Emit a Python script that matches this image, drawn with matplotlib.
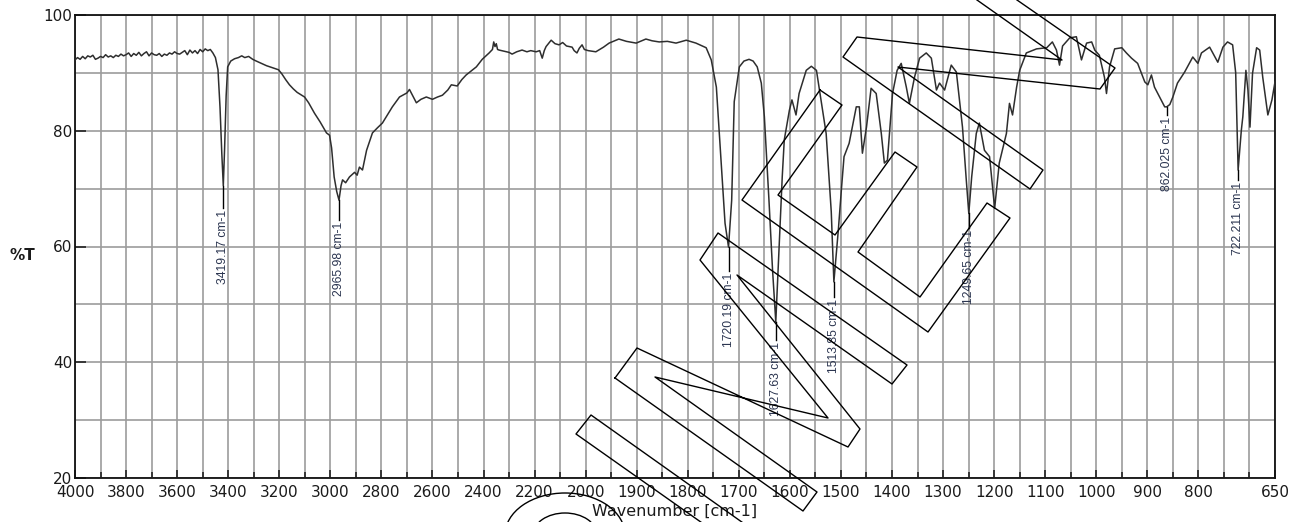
import numpy as np
import matplotlib
matplotlib.use("Agg")
import matplotlib.pyplot as plt
from matplotlib.lines import Line2D
from matplotlib.patches import Ellipse

# --- spectrum (wavenumber cm-1, %T) ---
wavenumber = [
    4000, 3990, 3980, 3970, 3960, 3950, 3940, 3930, 3920, 3910, 3900, 3890, 3880, 3870,
    3860, 3850, 3840, 3830, 3820, 3810, 3800, 3790, 3780, 3770, 3760, 3750, 3740, 3730,
    3720, 3710, 3700, 3690, 3680, 3670, 3660, 3650, 3640, 3630, 3620, 3610, 3600, 3590,
    3580, 3570, 3560, 3550, 3540, 3530, 3520, 3510, 3500, 3490, 3480, 3470, 3460, 3450,
    3440, 3432, 3425, 3419.17, 3414, 3408, 3402, 3390, 3375, 3360, 3347, 3335, 3320, 3304,
    3290, 3270, 3250, 3230, 3203, 3190, 3175, 3160, 3145, 3130, 3101, 3085, 3062, 3040,
    3015, 3003, 2995, 2985, 2975, 2965.98, 2958, 2952, 2940, 2925, 2905, 2895, 2886, 2874,
    2858, 2835, 2815, 2796, 2757, 2729, 2700, 2690, 2663, 2645, 2624, 2600, 2580, 2561,
    2540, 2526, 2503, 2485, 2468, 2428, 2405, 2378, 2365, 2360, 2355, 2350, 2345, 2339,
    2320, 2300, 2288, 2270, 2249, 2230, 2215, 2194, 2180, 2170, 2162, 2155, 2135, 2120,
    2104, 2090, 2075, 2053, 2045, 2034, 2025, 2014, 2005, 1995, 1980, 1965, 1954, 1935,
    1920, 1901, 1882, 1870, 1856, 1840, 1823, 1803, 1784, 1764, 1754, 1744, 1735, 1727,
    1720.19, 1714, 1709, 1699, 1690, 1680, 1672, 1664, 1656, 1650, 1641, 1634, 1627.63,
    1621, 1615, 1611, 1601, 1596, 1588, 1582, 1568, 1558, 1548, 1543, 1529, 1519, 1513.85,
    1505, 1499, 1494, 1484, 1470, 1464, 1458, 1450, 1441, 1431, 1421, 1415, 1409, 1399,
    1390, 1382, 1372, 1366, 1356, 1346, 1333, 1323, 1313, 1307, 1297, 1284, 1274, 1262,
    1255, 1249.65, 1244, 1235, 1229, 1219, 1209, 1199, 1190, 1176, 1170, 1164, 1156, 1150,
    1137, 1117, 1097, 1086, 1078, 1072, 1066, 1052, 1039, 1029, 1019, 1009, 1003, 994,
    984, 980, 974, 964, 950, 941, 931, 919, 905, 899, 892, 886, 876, 866, 862.025,
    856, 850, 841, 827, 811, 801, 794, 778, 762, 752, 743, 733, 727, 722.211, 716, 713,
    707, 703, 699, 694, 686, 680, 674, 664, 656, 650,
]
transmittance = [
    92.2, 92.6, 92.3, 92.8, 92.4, 92.9, 92.7, 93.0, 92.3, 92.5, 92.8, 92.6, 93.1, 92.7,
    92.9, 92.6, 93.0, 92.8, 93.2, 92.9, 93.1, 93.4, 92.8, 93.3, 93.0, 93.5, 92.9, 93.3,
    93.6, 92.9, 93.4, 93.1, 93.0, 93.3, 92.8, 93.2, 93.0, 93.4, 93.2, 93.6, 93.3, 93.2,
    93.5, 93.8, 93.1, 93.9, 93.4, 93.8, 93.3, 94.0, 93.6, 94.1, 93.8, 94.0, 93.4, 92.6,
    90.5, 84.0, 76.0, 70.5, 77.0, 86.0, 91.0, 92.0, 92.4, 92.6, 92.9, 92.6, 92.8, 92.3,
    92.0, 91.6, 91.2, 90.9, 90.5, 89.8, 88.8, 87.9, 87.2, 86.6, 85.8, 84.8, 83.0, 81.5,
    79.6, 79.2, 77.0, 72.0, 69.5, 68.0, 70.5, 71.5, 71.0, 72.0, 72.8, 72.3, 73.7, 73.2,
    76.6, 79.6, 80.5, 81.3, 84.1, 85.8, 86.5, 87.1, 84.8, 85.4, 85.8, 85.4, 85.8, 86.1,
    87.0, 87.9, 87.7, 88.8, 89.6, 91.0, 92.3, 93.4, 94.0, 95.3, 94.5, 95.0, 94.0, 93.9,
    93.7, 93.5, 93.2, 93.6, 93.9, 93.6, 93.8, 93.6, 93.8, 92.5, 93.8, 94.5, 95.6, 95.0,
    94.8, 95.2, 94.6, 94.4, 93.8, 93.4, 94.2, 94.8, 94.0, 93.8, 93.6, 94.4, 95.1, 95.8,
    95.4, 95.1, 95.8, 95.5, 95.3, 95.4, 95.1, 95.6, 95.1, 94.3, 92.2, 87.5, 75.0, 64.0,
    59.9, 68.0, 85.0, 91.0, 92.0, 92.3, 92.0, 91.0, 88.2, 82.4, 68.0, 56.0, 47.0,
    60.0, 72.0, 78.4, 83.5, 85.3, 82.7, 86.4, 90.4, 91.1, 90.4, 87.5, 79.5, 66.0, 53.9,
    63.0, 70.0, 75.5, 77.8, 84.1, 84.1, 76.1, 80.6, 87.3, 86.4, 79.5, 74.4, 74.9, 86.4,
    90.4, 91.6, 87.5, 84.7, 89.2, 92.5, 93.4, 92.5, 87.0, 88.2, 87.0, 91.3, 90.1, 80.6,
    72.0, 65.7, 72.0, 79.5, 81.3, 76.6, 75.5, 66.6, 74.4, 79.5, 84.7, 82.7, 87.5, 90.4,
    93.4, 94.1, 94.3, 95.3, 93.9, 91.3, 94.6, 96.0, 96.2, 92.2, 95.1, 95.3, 93.9, 93.0,
    89.2, 86.4, 91.0, 94.1, 94.3, 93.4, 92.5, 91.6, 88.4, 87.9, 89.6, 87.5, 85.8, 84.1, 84.1,
    84.5, 85.8, 88.2, 90.1, 92.7, 91.6, 93.4, 94.4, 91.8, 94.4, 95.3, 94.8, 90.0, 73.2, 80.0, 82.4,
    90.4, 87.0, 80.6, 89.9, 94.3, 93.9, 89.2, 82.7, 85.3, 88.4,
]

# picked peaks
peak_wn = [3419.17, 2965.98, 1720.19, 1627.63, 1513.85, 1249.65, 862.025, 722.211]
peak_t = [70.5, 68.0, 59.9, 47.0, 53.9, 65.7, 84.1, 73.2]
peak_labels = ["3419.17 cm-1", "2965.98 cm-1", "1720.19 cm-1", "1627.63 cm-1",
               "1513.85 cm-1", "1249.65 cm-1", "862.025 cm-1", "722.211 cm-1"]
label_drop_px = [22, 20, 24, 18, 15, 15, 8, 10]

x_major = [4000, 3800, 3600, 3400, 3200, 3000, 2800, 2600, 2400, 2200, 2000,
           1900, 1800, 1700, 1600, 1500, 1400, 1300, 1200, 1100, 1000, 900, 800, 650]
x_minor = [3900, 3700, 3500, 3300, 3100, 2900, 2700, 2500, 2300, 2100,
           1950, 1850, 1750, 1650, 1550, 1450, 1350, 1250, 1150, 1050, 950, 850, 750, 700]
y_major = [20, 40, 60, 80, 100]
y_minor = [30, 50, 70, 90]


# spectrometer axis: 4000-2000 is drawn at half the scale of 2000-650
def fwd(w):
    w = np.asarray(w, dtype=float)
    return np.where(w >= 2000, w / 2 + 1000, w)


def inv(u):
    u = np.asarray(u, dtype=float)
    return np.where(u >= 2000, 2 * (u - 1000), u)


W, H = 1304, 522
fig = plt.figure(figsize=(W / 100, H / 100), dpi=100)
ax = fig.add_axes([75 / W, 1 - 478.3 / H, 1200 / W, 463.6 / H])
px_per_t = 463.6 / 80

ax.set_xscale("function", functions=(fwd, inv))
ax.set_xlim(4000, 650)
ax.set_ylim(20, 100)

ax.set_xticks(x_major)
ax.set_xticks(x_minor, minor=True)
ax.set_yticks(y_major)
ax.set_yticks(y_minor, minor=True)
ax.set_xticklabels([str(v) for v in x_major])
ax.grid(True, which="both", color="#9c9c9c", linewidth=1.2)
ax.set_axisbelow(True)

ax.tick_params(axis="x", which="major", direction="in", length=6, width=1.2, color="#222222",
               pad=5, labelsize=11, labelcolor="#1a1a1a")
ax.tick_params(axis="x", which="minor", direction="in", length=4, width=1.2, color="#222222")
ax.tick_params(axis="y", which="major", direction="in", length=8, width=1.2, color="#222222",
               pad=2, labelsize=11, labelcolor="#1a1a1a")
ax.tick_params(axis="y", which="minor", length=0)
for s in ax.spines.values():
    s.set_linewidth(1.3)
    s.set_color("#111111")

ax.plot(wavenumber, transmittance, color="#2e2e2e", linewidth=1.1, zorder=3)

for w, t, lab, d in zip(peak_wn, peak_t, peak_labels, label_drop_px):
    t_end = t - d / px_per_t
    ax.plot([w, w], [t, t_end], color="black", linewidth=1.0, zorder=4)
    ax.text(w, t_end - 0.3, lab, rotation=90, ha="center", va="top", fontsize=8.7,
            family=["Liberation Sans", "DejaVu Sans"], color="#2b3550", zorder=5)

fig.text(22 / W, 1 - 255 / H, "%T", ha="center", va="center", fontsize=11,
         fontweight="bold", color="#1a1a1a")
fig.text(675 / W, 1 - 511 / H, "Wavenumber [cm-1]", ha="center", va="center",
         fontsize=11.5, color="#1a1a1a")

# --- watermark outlines over the chart (pixel positions in the picture) ---
wm_bar = [(705, 525), (576, 434), (591, 415), (746, 525)]
wm_m = [(615, 378), (803, 511), (817, 492), (655, 377), (828, 418), (700, 260), (718, 233),
        (907, 365), (892, 384), (737, 275), (860, 429), (848, 447), (637, 348), (615, 378)]
wm_e = [(820, 90), (842, 105), (778, 195), (835, 235), (895, 152), (917, 167), (858, 252),
        (920, 297), (987, 203), (1010, 218), (928, 332), (742, 200), (820, 90)]
wm_top = [(977, 0), (1062, 60), (857, 37), (843, 57), (1030, 189), (1043, 170), (898, 67),
          (1100, 89), (1115, 68), (1017, 0)]

for poly in [wm_bar, wm_m, wm_e, wm_top]:
    xs = [p[0] / W for p in poly]
    ys = [1 - p[1] / H for p in poly]
    fig.add_artist(Line2D(xs, ys, transform=fig.transFigure, color="black",
                          linewidth=1.0, zorder=10))
for a, b in [(60, 42), (32, 22)]:
    fig.add_artist(Ellipse((565 / W, 1 - 535 / H), 2 * a / W, 2 * b / H,
                           transform=fig.transFigure, fill=False, edgecolor="black",
                           linewidth=1.0, zorder=10))

fig.savefig("out.png", dpi=100)
